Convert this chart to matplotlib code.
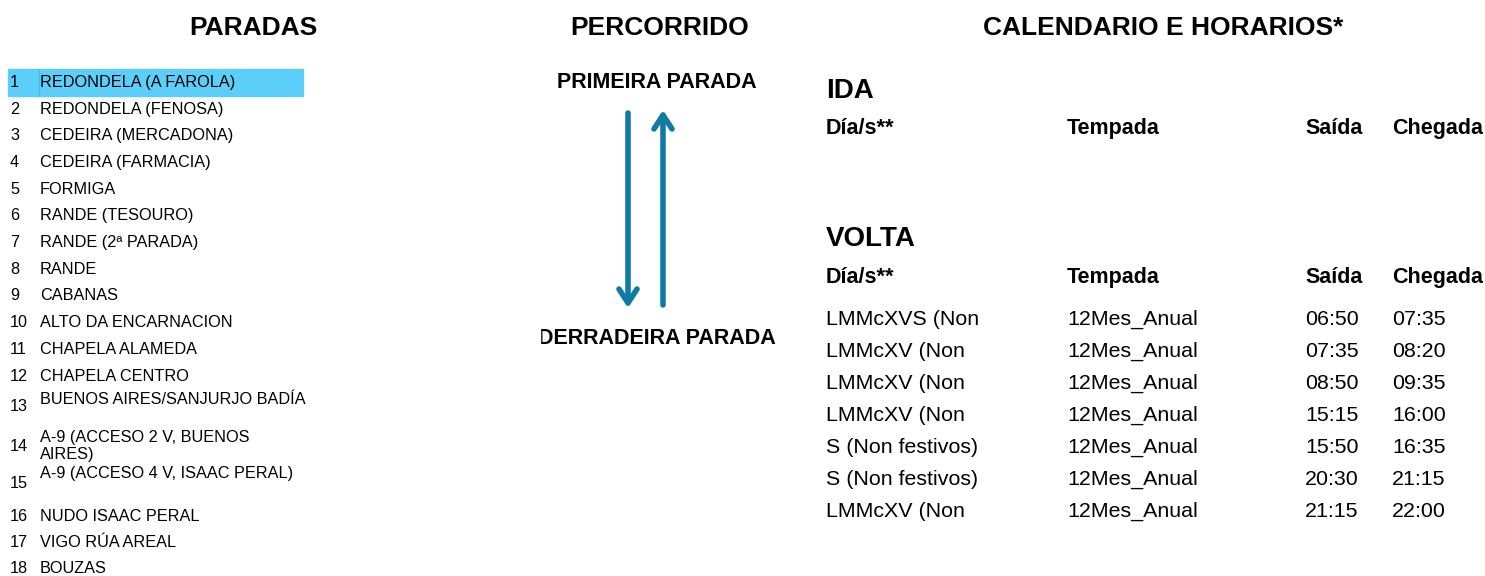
import matplotlib
matplotlib.use("Agg")
import matplotlib.pyplot as plt
from matplotlib.patches import Rectangle

# stops along the route
stop_numbers = list(range(1, 19))
stop_names = [
    "REDONDELA (A FAROLA)", "REDONDELA (FENOSA)", "CEDEIRA (MERCADONA)",
    "CEDEIRA (FARMACIA)", "FORMIGA", "RANDE (TESOURO)", "RANDE (2ª PARADA)",
    "RANDE", "CABANAS", "ALTO DA ENCARNACION", "CHAPELA ALAMEDA",
    "CHAPELA CENTRO", "BUENOS AIRES/SANJURJO BADÍA",
    "A-9 (ACCESO 2 V, BUENOS\nAIRES)", "A-9 (ACCESO 4 V, ISAAC PERAL)",
    "NUDO ISAAC PERAL", "VIGO RÚA AREAL", "BOUZAS",
]

# timetable (only VOLTA has services)
col_headers = ["Día/s**", "Tempada", "Saída", "Chegada"]
volta_days = ["LMMcXVS (Non", "LMMcXV (Non", "LMMcXV (Non", "LMMcXV (Non",
              "S (Non festivos)", "S (Non festivos)", "LMMcXV (Non"]
volta_season = ["12Mes_Anual"] * 7
volta_depart = ["06:50", "07:35", "08:50", "15:15", "15:50", "20:30", "21:15"]
volta_arrive = ["07:35", "08:20", "09:35", "16:00", "16:35", "21:15", "22:00"]

plt.rcParams['font.family'] = ['Liberation Sans', 'DejaVu Sans']

W, H = 1485, 576
fig = plt.figure(figsize=(W / 100, H / 100), dpi=100)
ax = fig.add_axes([0, 0, 1, 1])
ax.set_xlim(0, W)
ax.set_ylim(H, 0)
ax.axis("off")


def put(x, yc, s, size, **kw):
    # place text so the capital letters are centred on yc (baseline aligned)
    base = yc - 1 + 0.358 * size * 100 / 72
    ax.text(x, base, s, va="baseline", fontsize=size, **kw)


# -> section titles
for label, xc in [("PARADAS", 253), ("PERCORRIDO", 660), ("CALENDARIO E HORARIOS*", 1163)]:
    put(xc, 27, label, 19, ha="center", fontweight="bold")

# -> stop list (rows 13-15 are taller cells)
gaps = [0] + [26.7] * 11 + [30, 40, 37, 33, 26, 26]
name_shift = {13: -7, 14: -9, 15: -10}
y = 82
highlight = "#5BCEFA"
for i, (num, name) in enumerate(zip(stop_numbers, stop_names)):
    y += gaps[i]
    if i == 0:
        ax.add_patch(Rectangle((8, y - 13.5), 295, 27, color=highlight, zorder=0))
        ax.plot([39, 39], [y - 13.5, y + 13.5], color="#4AB8E6", lw=0.8, zorder=0)
    put(10, y, str(num), 11.7, ha="left")
    name_y = y + name_shift.get(num, 0)
    for k, line in enumerate(name.split("\n")):
        put(40, name_y + 17 * k, line, 11.7, ha="left")

# -> route arrows
arrow_col = "#0E7AA5"
put(657, 81, "PRIMEIRA PARADA", 15.5, ha="center", fontweight="bold")
put(657, 337, "DERRADEIRA PARADA", 15.5, ha="center", fontweight="bold")
ax.add_patch(Rectangle((500, 320), 40, 35, color="white", zorder=5))
arrow_style = dict(arrowstyle="->,head_length=1.0,head_width=0.65", lw=4,
                   color=arrow_col, capstyle="round", joinstyle="round",
                   shrinkA=0, shrinkB=0)
ax.annotate("", xy=(628, 308), xytext=(628, 113), arrowprops=arrow_style)
ax.annotate("", xy=(663, 110), xytext=(663, 305), arrowprops=arrow_style)

# -> timetable
col_x = [826, 1067, 1305, 1392]
put(826, 89, "IDA", 20, ha="left", fontweight="bold")
for cx, h in zip(col_x, col_headers):
    put(cx, 127, h, 15.5, ha="left", fontweight="bold")

put(826, 237, "VOLTA", 20, ha="left", fontweight="bold")
for cx, h in zip(col_x, col_headers):
    put(cx, 276, h, 15.5, ha="left", fontweight="bold")

for r, row in enumerate(zip(volta_days, volta_season, volta_depart, volta_arrive)):
    ry = 318 + 32 * r
    for cx, val in zip(col_x, row):
        put(cx, ry, val, 15.4, ha="left")

fig.savefig("out.png", dpi=100)
